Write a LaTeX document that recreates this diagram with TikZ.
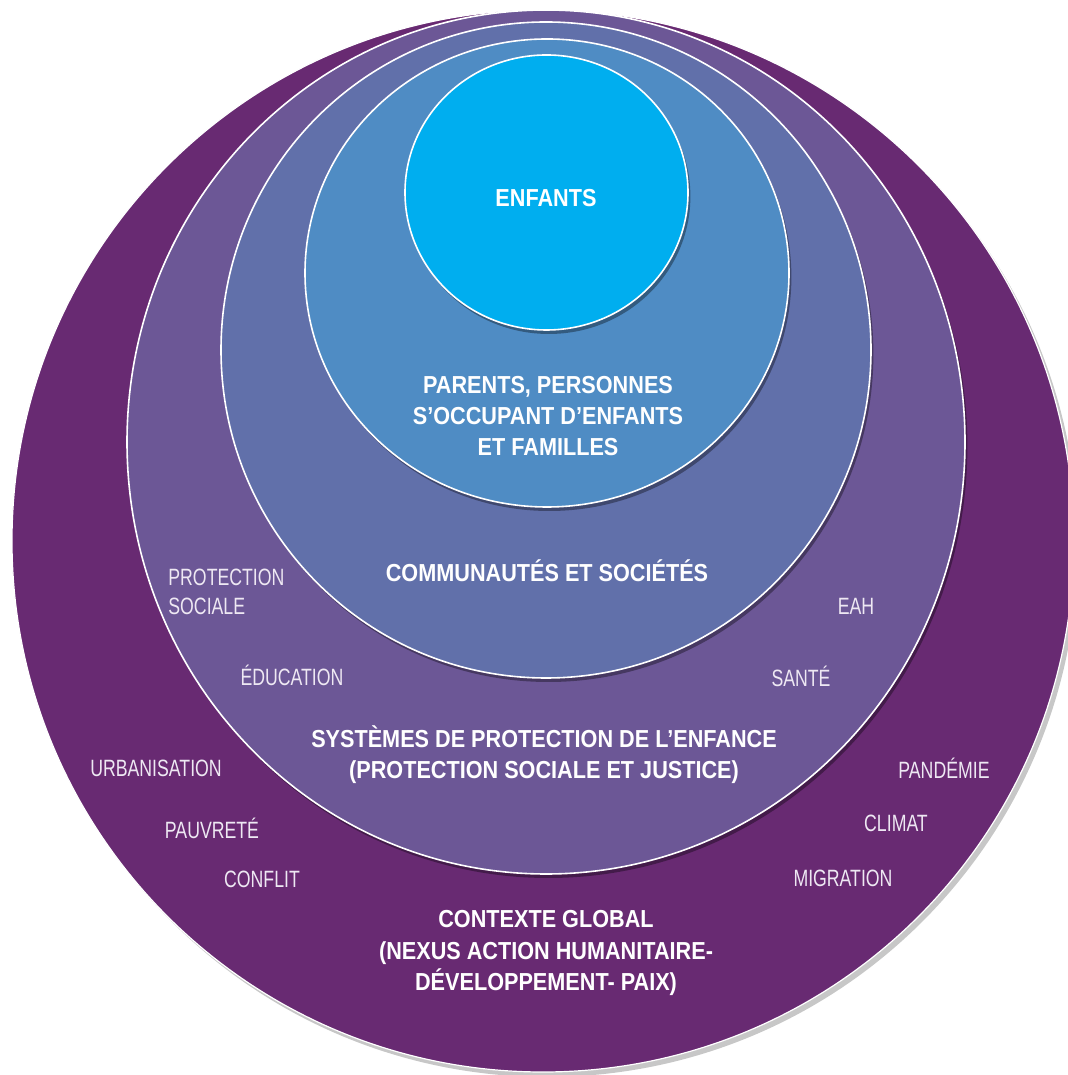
\documentclass[tikz,border=0pt]{standalone}
\usepackage{fontspec}
\setmainfont{Liberation Sans}
\newfontfamily\headfont[FakeStretch=0.88]{Liberation Sans}
\newfontfamily\itemfont[FakeStretch=0.75]{Liberation Sans}
\usetikzlibrary{shadows}

\definecolor{globalc}{HTML}{682A72}
\definecolor{systemc}{HTML}{6C5796}
\definecolor{commc}{HTML}{6170AA}
\definecolor{parentc}{HTML}{4F8CC4}
\definecolor{childc}{HTML}{00AEEF}
\definecolor{itemtxt}{HTML}{EEE8F3}

\tikzset{
  ring/.style={draw=white, line width=0.8pt,
    drop shadow={shadow xshift=1.2pt, shadow yshift=-2pt, opacity=0.35, fill=black}},
  outerring/.style={draw=white, line width=0.6pt,
    drop shadow={shadow xshift=2pt, shadow yshift=-2.5pt, opacity=0.22, fill=black}},
  headlbl/.style={text=white, align=center, inner sep=0pt,
    font=\headfont\bfseries\fontsize{12.3}{15.6}\selectfont},
  itemlbl/.style={text=itemtxt, inner sep=0pt,
    font=\itemfont\fontsize{11.8}{14.5}\selectfont},
}

\begin{document}
\begin{tikzpicture}[x=0.5pt, y=0.5pt]
\useasboundingbox (0,0) rectangle (1068,1075);

% nested spheres of influence, outermost first
\fill[globalc, outerring] (543,534) ellipse [x radius=531, y radius=531];
\fill[systemc, ring] (546,633) ellipse [x radius=419, y radius=432];
\fill[commc, ring] (546,725) ellipse [x radius=325, y radius=328];
\fill[parentc, ring] (547,802) ellipse [x radius=242, y radius=234];
\fill[childc, ring] (546.5,882.5) ellipse [x radius=141.5, y radius=137.5];

% ring titles
\node[headlbl] (enfants) at (546,877) {ENFANTS};
\node[headlbl] (parents) at (548,659) {PARENTS, PERSONNES\\S’OCCUPANT D’ENFANTS\\ET FAMILLES};
\node[headlbl] (communautes) at (547,504) {COMMUNAUTÉS ET SOCIÉTÉS};
\node[headlbl] (systemes) at (544,320) {SYSTÈMES DE PROTECTION DE L’ENFANCE\\(PROTECTION SOCIALE ET JUSTICE)};
\node[headlbl] (contexte) at (546,122) {CONTEXTE GLOBAL\\(NEXUS ACTION HUMANITAIRE-\\DÉVELOPPEMENT- PAIX)};

% sectors within the protection systems ring
\node[itemlbl, anchor=west, align=left] (protsoc) at (168,483.5) {PROTECTION\\SOCIALE};
\node[itemlbl] (education) at (292,400) {ÉDUCATION};
\node[itemlbl] (eah) at (856,469) {EAH};
\node[itemlbl] (sante) at (801,399) {SANTÉ};

% global drivers
\node[itemlbl] (urbanisation) at (156,307) {URBANISATION};
\node[itemlbl] (pauvrete) at (212,247) {PAUVRETÉ};
\node[itemlbl] (conflit) at (262,196) {CONFLIT};
\node[itemlbl] (pandemie) at (944,307) {PANDÉMIE};
\node[itemlbl] (climat) at (896,252) {CLIMAT};
\node[itemlbl] (migration) at (843,197) {MIGRATION};
\end{tikzpicture}
\end{document}
